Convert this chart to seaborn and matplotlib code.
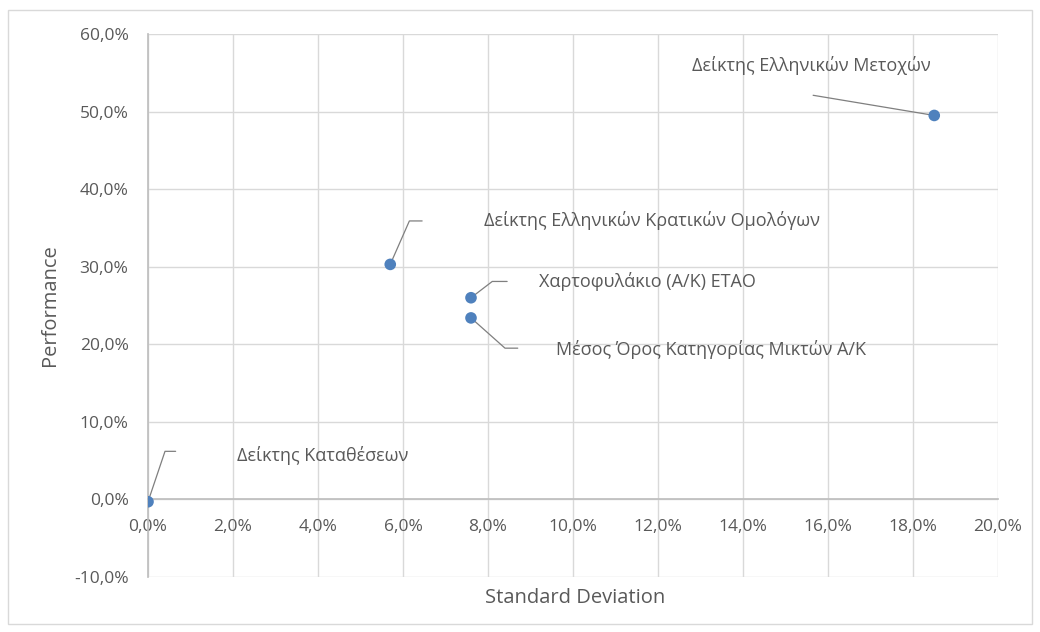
import matplotlib
matplotlib.use("Agg")
import matplotlib.pyplot as plt
import seaborn as sns
import pandas as pd
from matplotlib.patches import Rectangle
from matplotlib.ticker import FuncFormatter, MultipleLocator

# ---- data (values in %) ----
names = [
    "Δείκτης Καταθέσεων",
    "Δείκτης Ελληνικών Κρατικών Ομολόγων",
    "Χαρτοφυλάκιο (Α/Κ) ΕΤΑΟ",
    "Μέσος Όρος Κατηγορίας Μικτών Α/Κ",
    "Δείκτης Ελληνικών Μετοχών",
]
std_dev = [0.0, 5.7, 7.6, 7.6, 18.5]
performance = [-0.3, 30.3, 26.0, 23.4, 49.5]

# label placement (offsets from each point, in data units)
label_dx = [2.1, 2.2, 1.6, 2.0, -5.7]
label_dy = [6.0, 5.6, 2.1, -4.1, 6.4]
# leader elbows (offsets from point)
elbow_dx = [0.4, 0.45, 0.5, 0.8, -2.85]
elbow_dy = [6.5, 5.6, 2.1, -3.9, 2.6]
tail_len = [0.25, 0.3, 0.35, 0.3, 0.0]

df = pd.DataFrame({"Standard Deviation": std_dev, "Performance": performance, "name": names})

sns.set_theme(style="white")
plt.rcParams["font.family"] = ["Open Sans", "DejaVu Sans"]

fig = plt.figure(figsize=(10.4, 6.32), dpi=100)
ax = fig.add_axes([148 / 1040, 1 - 577 / 632, 850 / 1040, 543 / 632])

grid_c = "#d9d9d9"
text_c = "#595959"
pt_c = "#4f81bd"

sns.scatterplot(data=df, x="Standard Deviation", y="Performance", ax=ax,
                color=pt_c, s=70, edgecolor="none", zorder=5, legend=False)

ax.set_xlim(0, 20)
ax.set_ylim(-10, 60)
ax.xaxis.set_major_locator(MultipleLocator(2))
ax.yaxis.set_major_locator(MultipleLocator(10))
fmt = FuncFormatter(lambda v, p: f"{v:.1f}%".replace(".", ","))
ax.xaxis.set_major_formatter(fmt)
ax.yaxis.set_major_formatter(fmt)
ax.grid(True, color=grid_c, linewidth=1)
ax.set_axisbelow(True)

for s in ["top", "right"]:
    ax.spines[s].set_visible(False)
ax.spines["bottom"].set_position(("data", 0))
ax.spines["bottom"].set_color("#bfbfbf")
ax.spines["left"].set_color("#bfbfbf")
ax.tick_params(axis="both", length=0, labelsize=12.5, labelcolor=text_c)
ax.tick_params(axis="x", pad=14)
ax.tick_params(axis="y", pad=14)

ax.set_xlabel("Standard Deviation", fontsize=14.5, color=text_c, va="center")
ax.set_ylabel("Performance", fontsize=14.5, color=text_c, va="center")
ax.xaxis.set_label_coords(0.503, -0.038)
ax.yaxis.set_label_coords(-0.115, 0.5)

for i, n in enumerate(names):
    x0, y0 = std_dev[i], performance[i]
    ex, ey = x0 + elbow_dx[i], y0 + elbow_dy[i]
    if tail_len[i] > 0:
        ax.plot([x0, ex, ex + tail_len[i]], [y0, ey, ey], color="#7f7f7f", lw=0.9, zorder=4)
    else:
        ax.plot([x0, ex], [y0, ey], color="#7f7f7f", lw=0.9, zorder=4)
    ax.text(x0 + label_dx[i], y0 + label_dy[i], n, fontsize=13, color=text_c,
            ha="left", va="center", zorder=6)

fig.patches.append(Rectangle((8 / 1040, 1 - 624 / 632), 1024 / 1040, 614 / 632,
                             transform=fig.transFigure, fill=False,
                             edgecolor="#d9d9d9", linewidth=1))

fig.savefig("out.png", dpi=100)
